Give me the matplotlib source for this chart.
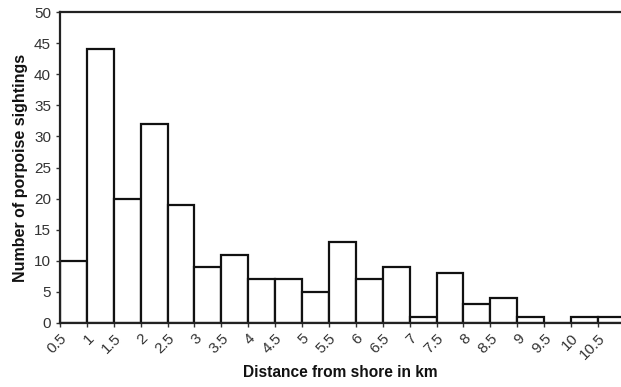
import numpy as np
import matplotlib
matplotlib.use("Agg")
import matplotlib.pyplot as plt

plt.rcParams['font.family'] = ['Liberation Sans', 'DejaVu Sans']

# bin left edges (km) and sighting counts
bin_edges = [0.5, 1, 1.5, 2, 2.5, 3, 3.5, 4, 4.5, 5, 5.5, 6, 6.5, 7, 7.5, 8, 8.5, 9, 9.5, 10, 10.5]
counts = [10, 44, 20, 32, 19, 9, 11, 7, 7, 5, 13, 7, 9, 1, 8, 3, 4, 1, 0, 1, 1]
tick_labels = ['0.5', '1', '1.5', '2', '2.5', '3', '3.5', '4', '4.5', '5', '5.5',
               '6', '6.5', '7', '7.5', '8', '8.5', '9', '9.5', '10', '10.5']

fig = plt.figure(figsize=(6.21, 3.87), dpi=100)
ax = fig.add_axes([60 / 621, 1 - 323 / 387, 1 - 60 / 621, 311 / 387])

ax.bar(bin_edges, counts, width=0.5, align='edge', color='white',
       edgecolor='#111111', linewidth=1.6, zorder=2)

ax.set_xlim(0.5, 10.93)
ax.set_ylim(0, 50)
ax.set_yticks(np.arange(0, 51, 5))
ax.set_xticks(bin_edges)
ax.set_xticklabels(tick_labels, rotation=45, ha='right', rotation_mode='anchor')

ax.spines['right'].set_visible(False)
for s in ['left', 'top', 'bottom']:
    ax.spines[s].set_linewidth(1.6)
    ax.spines[s].set_color('#222222')

ax.tick_params(axis='both', labelsize=11, colors='#333333', length=3, width=1)
ax.tick_params(axis='x', pad=3)

ax.set_xlabel('Distance from shore in km', fontsize=11.2, fontweight='bold', labelpad=2,
              color='#111111')
ax.set_ylabel('Number of porpoise sightings', fontsize=11.5, fontweight='bold', labelpad=4,
              color='#111111')

fig.savefig('out.png', dpi=100)
